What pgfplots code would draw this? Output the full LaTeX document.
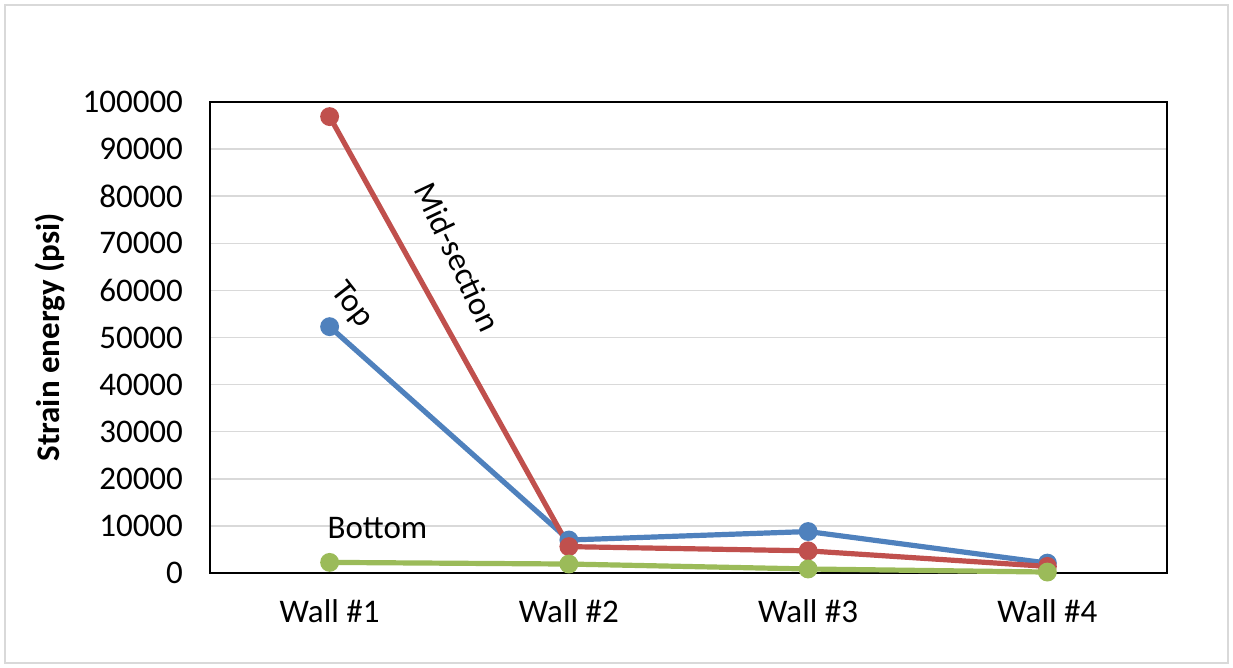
\documentclass[border=0pt]{standalone}
\usepackage{fontspec}
\setmainfont{Carlito}
\usepackage{pgfplots}
\pgfplotsset{compat=1.18}
\definecolor{topblue}{HTML}{4F81BD}
\definecolor{midred}{HTML}{C0504D}
\definecolor{botgreen}{HTML}{9BBB59}
\definecolor{gridgray}{HTML}{D9D9D9}
\definecolor{framegray}{HTML}{D9D9D9}
\newcommand{\chartfont}{\fontsize{16.5}{19}\selectfont}
\begin{document}
\begin{tikzpicture}
  % outer chart frame
  \path[use as bounding box] (0pt,0pt) rectangle (616.5pt,334pt);
  \draw[framegray, line width=0.75pt] (2.5pt,2.5pt) rectangle (614pt,331.5pt);
  \begin{axis}[
    at={(105pt,47.5pt)}, anchor=south west,
    scale only axis,
    width=478.5pt, height=235.5pt,
    xmin=-0.5, xmax=3.5,
    ymin=0, ymax=100000,
    xtick={0,1,2,3},
    xticklabels={Wall \#1, Wall \#2, Wall \#3, Wall \#4},
    ytick={0,10000,...,100000},
    major tick length=0pt,
    ymajorgrids,
    grid style={gridgray, line width=0.75pt},
    axis line style={black, line width=0.9pt},
    tick label style={font=\chartfont},
    yticklabel style={xshift=-10pt},
    xticklabel style={yshift=-10pt},
    /pgf/number format/assume math mode=true,
    /pgf/number format/fixed,
    /pgf/number format/set thousands separator={},
    scaled y ticks=false,
    ylabel={\bfseries Strain energy (psi)},
    ylabel style={font=\chartfont, at={(axis description cs:-0.167,0.5)}, anchor=center},
    every axis plot/.append style={line width=2.6pt, mark=*, mark size=3.4pt},
    clip=false,
  ]
    \addplot[color=topblue, mark options={fill=topblue, draw=topblue}] coordinates {
      (0,52300) (1,7000) (2,8800) (3,2100)
    };
    \addplot[color=midred, mark options={fill=midred, draw=midred}] coordinates {
      (0,96900) (1,5600) (2,4700) (3,1400)
    };
    \addplot[color=botgreen, mark options={fill=botgreen, draw=botgreen}] coordinates {
      (0,2250) (1,1900) (2,850) (3,200)
    };
    \node[rotate=-52, font=\chartfont] at (axis cs:0.092,56900) {Top};
    \node[rotate=-64.8, font=\chartfont] at (axis cs:0.536,67100) {Mid-section};
    \node[font=\chartfont] at (axis cs:0.20,9550) {Bottom};
  \end{axis}
\end{tikzpicture}
\end{document}
